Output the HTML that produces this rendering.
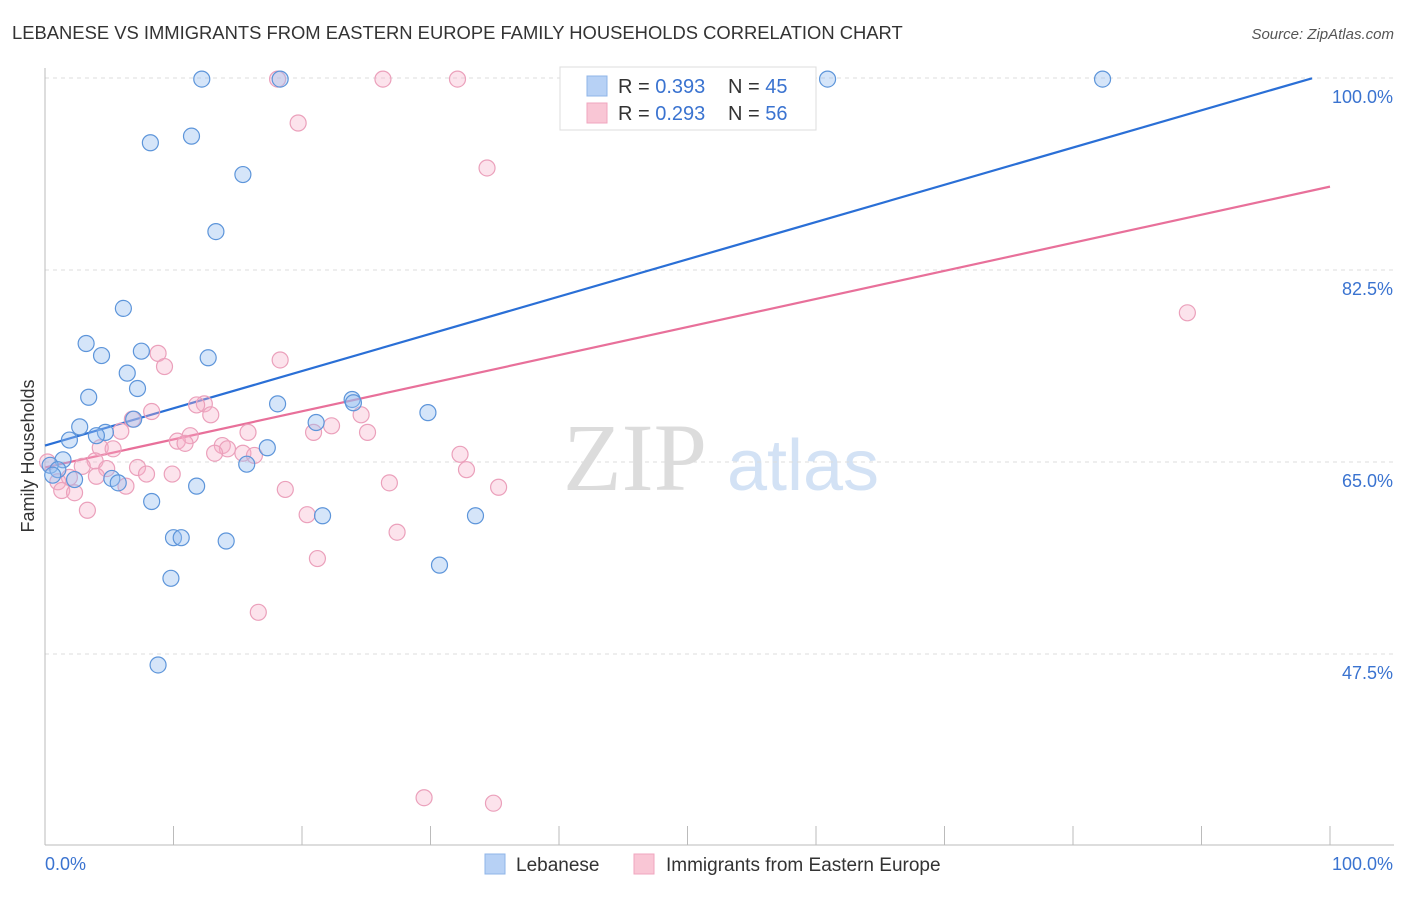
<!DOCTYPE html>
<html><head><meta charset="utf-8"><style>
body{margin:0;background:#fff;font-family:"Liberation Sans",sans-serif;}
</style></head><body>
<svg id="chart" width="1406" height="892" xmlns="http://www.w3.org/2000/svg">
<text x="12" y="39" font-size="18.4" fill="#333">LEBANESE VS IMMIGRANTS FROM EASTERN EUROPE FAMILY HOUSEHOLDS CORRELATION CHART</text>
<text x="1394" y="39" font-size="15" fill="#555" font-style="italic" text-anchor="end">Source: ZipAtlas.com</text>
<text x="34" y="456" font-size="18" fill="#333" text-anchor="middle" transform="rotate(-90 34 456)">Family Households</text>
<g><text x="635" y="490" font-size="96" fill="#dcdcdc" font-family="Liberation Serif,serif" text-anchor="middle">ZIP</text><text x="803" y="490" font-size="72" fill="#d3e2f5" text-anchor="middle">atlas</text></g>
<g id="grid"></g><g id="lines"></g><g id="pts"></g>
<g>
<rect x="560" y="67" width="256" height="63" fill="#fff" stroke="#ddd"/>
<rect x="587" y="76" width="20" height="20" fill="#b7d1f5" stroke="#8fb5e8"/>
<rect x="587" y="103" width="20" height="20" fill="#f9c6d5" stroke="#f0a6bf"/>
<text x="618" y="93" font-size="20" fill="#333">R = <tspan fill="#3a73d0">0.393</tspan></text>
<text x="728" y="93" font-size="20" fill="#333">N = <tspan fill="#3a73d0">45</tspan></text>
<text x="618" y="120" font-size="20" fill="#333">R = <tspan fill="#3a73d0">0.293</tspan></text>
<text x="728" y="120" font-size="20" fill="#333">N = <tspan fill="#3a73d0">56</tspan></text>
</g>
<g>
<rect x="485" y="854" width="20" height="20" fill="#b7d1f5" stroke="#8fb5e8"/>
<text x="516" y="871" font-size="19" fill="#333">Lebanese</text>
<rect x="634" y="854" width="20" height="20" fill="#f9c6d5" stroke="#f0a6bf"/>
<text x="666" y="871" font-size="19" fill="#333">Immigrants from Eastern Europe</text>
</g>
</svg>
<script>
const yTicks=[47.5,65.0,82.5,100.0];
const blueX=[12.2,18.3,60.9,82.3,8.2,11.4,15.4,13.3,6.1,3.2,4.4,7.5,12.7,6.4,7.2,3.4,23.9,24.0,18.1,29.8,6.9,21.1,2.7,4.7,4.0,1.9,17.3,1.4,15.7,0.4,1.0,0.6,2.3,5.2,5.7,11.8,8.3,21.6,33.5,10.0,10.6,14.1,30.7,9.8,8.8];
const blueY=[99.9,99.9,99.9,99.9,94.1,94.7,91.2,86.0,79.0,75.8,74.7,75.1,74.5,73.1,71.7,70.9,70.7,70.4,70.3,69.5,68.9,68.6,68.2,67.7,67.4,67.0,66.3,65.2,64.8,64.7,64.3,63.8,63.4,63.5,63.1,62.8,61.4,60.1,60.1,58.1,58.1,57.8,55.6,54.4,46.5];
const pinkX=[18.1,26.3,32.1,47.2,19.7,34.4,88.9,18.3,8.8,9.3,12.4,11.8,8.3,12.9,24.6,6.8,22.3,5.9,25.1,20.9,15.8,11.3,10.3,10.9,13.8,14.2,4.3,5.3,13.2,15.4,16.3,32.3,3.9,2.9,4.8,7.2,32.8,7.9,9.9,1.9,1.0,26.8,6.3,35.3,18.7,1.3,2.3,20.4,3.3,27.4,21.2,16.6,29.5,34.9,0.2,4.0];
const pinkY=[99.9,99.9,99.9,99.9,95.9,91.8,78.6,74.3,74.9,73.7,70.3,70.2,69.6,69.3,69.3,68.9,68.3,67.8,67.7,67.7,67.7,67.4,66.9,66.7,66.5,66.2,66.3,66.2,65.8,65.8,65.6,65.7,65.1,64.6,64.4,64.5,64.3,63.9,63.9,63.6,63.2,63.1,62.8,62.7,62.5,62.4,62.2,60.2,60.6,58.6,56.2,51.3,34.4,33.9,65.0,63.7];
const blueTrend=[66.5,100.45];
const pinkTrend=[64.5,90.1];
const NS='http://www.w3.org/2000/svg';
const X0=45,X1=1330;
const sx=v=>X0+(X1-X0)*v/100;
const sy=v=>462-(v-65)*192/17.5;
function mk(t,a,p){const e=document.createElementNS(NS,t);for(const k in a)e.setAttribute(k,a[k]);p.appendChild(e);return e;}
const grid=document.getElementById('grid');
yTicks.forEach(t=>{
 const l=mk('line',{x1:X0,x2:1394,y1:sy(t),y2:sy(t),stroke:'#ddd','stroke-dasharray':'4,4'},grid);
 
 
 const tx=mk('text',{x:1393,y:sy(t)+25,'font-size':18,fill:'#3a73d0','text-anchor':'end'},grid);
 tx.textContent=t.toFixed(1)+'%';
 
 
});
const ax=mk('line',{x1:X0,x2:1394,y1:845,y2:845,stroke:'#bbb'},grid);


const ay=mk('line',{x1:X0,x2:X0,y1:68,y2:845,stroke:'#bbb'},grid);


for(let i=0;i<=10;i++){const t=mk('line',{x1:sx(i*10),x2:sx(i*10),y1:826,y2:845,stroke:'#bbb'},grid);
 
 }
const xl=mk('text',{x:45,y:870,'font-size':18,fill:'#3a73d0'},grid);xl.textContent='0.0%';


const xr=mk('text',{x:1393,y:870,'font-size':18,fill:'#3a73d0','text-anchor':'end'},grid);xr.textContent='100.0%';


const pts=document.getElementById('pts');
function dots(xs,ys,fill,stroke,name){xs.forEach((x,i)=>{const c=mk('circle',{cx:sx(x),cy:sy(ys[i]),r:8,fill:fill,stroke:stroke,'stroke-width':1.2},pts);
 
 });}
dots(pinkX,pinkY,'rgba(246,176,200,0.35)','#eba0bb','pink-point');
dots(blueX,blueY,'rgba(150,190,240,0.4)','#5d95da','blue-point');
const lines=document.getElementById('lines');
function trend(tr,x2,col,name){const e=x2;const l=mk('line',{x1:sx(0),y1:sy(tr[0]),x2:sx(e),y2:sy(tr[0]+(tr[1]-tr[0])*e/100),stroke:col,'stroke-width':2.2},lines);
 
 }
trend(blueTrend,98.6,'#2a6fd6','blue-trend-line');
trend(pinkTrend,100,'#e8709a','pink-trend-line');
</script>
</body></html>
